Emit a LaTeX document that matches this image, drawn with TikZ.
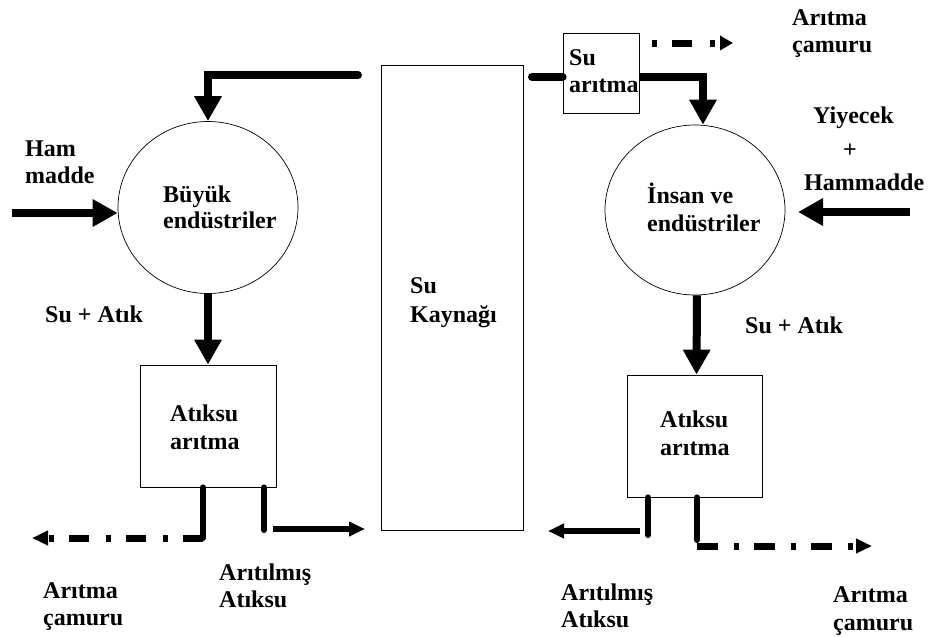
\documentclass[tikz,border=0pt]{standalone}
\usepackage{fontspec}
\setmainfont{Liberation Serif}
\usetikzlibrary{arrows.meta,shapes.geometric}
\newcommand\twol[3][0pt]{\begin{tabular}[t]{@{}l@{}}#2\\[#1]#3\end{tabular}}
\begin{document}
\begin{tikzpicture}[x=1pt,y=-1pt,
  box/.style={draw, line width=0.8pt, fill=white, inner sep=0pt, rectangle},
  blob/.style={draw, line width=0.7pt, ellipse, inner sep=0pt},
  txt/.style={font=\fontsize{24}{28}\selectfont\bfseries, inner sep=0pt, anchor=base west},
  bigarrow/.style={line width=8pt, -{Triangle[width=26pt,length=25pt]}},
  bigline/.style={line width=8pt},
  stub/.style={line width=6pt, line cap=round},
  smallarrow/.style={line width=6pt, -{Triangle[width=14pt,length=16pt]}},
  dasharrow/.style={line width=7pt, -{Triangle[width=14pt,length=16pt]}},
]
\useasboundingbox (0,0) rectangle (935,637);

% main shapes
\node[box, minimum width=142pt, minimum height=465pt] (kaynak) at (452,297.5) {};
\node[txt] (kaynaklbl) at (410,293) {\twol[1pt]{Su}{Kaynağı}};

\node[blob, minimum width=180pt, minimum height=172pt] (buyuk) at (208,207.5) {};
\node[txt] (buyuklbl) at (163,202) {\twol[-2pt]{Büyük}{endüstriler}};

\node[blob, minimum width=180pt, minimum height=170pt] (insan) at (695,210) {};
\node[txt] (insanlbl) at (647,203) {\twol{İnsan ve}{endüstriler}};

\node[box, minimum width=76pt, minimum height=80pt] (suarit) at (601,73) {};
\node[txt] (suaritlbl) at (569,65) {\twol[-1pt]{Su}{arıtma}};

\node[box, minimum width=136pt, minimum height=122pt] (latik) at (208,426) {};
\node[txt] (latiklbl) at (170,421) {\twol{Atıksu}{arıtma}};

\node[box, minimum width=135pt, minimum height=122pt] (ratik) at (694.5,436) {};
\node[txt] (ratiklbl) at (660,427) {\twol{Atıksu}{arıtma}};

% labels
\node[txt] (ham) at (25,156) {\twol[-1pt]{Ham}{madde}};
\node[txt] (sual) at (45,322) {Su + Atık};
\node[txt] (suar) at (745,333) {Su + Atık};
\node[txt] (yiy) at (813,123) {Yiyecek};
\node[txt] (plus) at (843,157) {+};
\node[txt] (hammadde) at (804,190) {Hammadde};
\node[txt] (camtop) at (792,25) {\twol{Arıtma}{çamuru}};
\node[txt] (atl) at (219,580) {\twol[-1pt]{Arıtılmış}{Atıksu}};
\node[txt] (caml) at (43,598) {\twol[-1pt]{Arıtma}{çamuru}};
\node[txt] (atr) at (561,600) {\twol[-1pt]{Arıtılmış}{Atıksu}};
\node[txt] (camr) at (833,602) {\twol{Arıtma}{çamuru}};

% coordinates for free ends
\coordinate (tl) at (358,75);
\coordinate (tr) at (532,77);
\coordinate (hamstart) at (12,213);
\coordinate (yistart) at (910,212);
\coordinate (yiend) at (798,212);
\coordinate (td1) at (652,43);
\coordinate (td2) at (733,43);
\coordinate (lv1) at (203,538);
\coordinate (lsl) at (32,538);
\coordinate (lv2) at (264,530);
\coordinate (lo1) at (273,529);
\coordinate (lo2) at (365,529);
\coordinate (rv1) at (648,535);
\coordinate (ro1) at (640,531);
\coordinate (ro2) at (548,531);
\coordinate (rv2) at (697,540);
\coordinate (rd1) at (697,546);
\coordinate (rd2) at (872,546);

% connectors top
\draw[bigarrow, line cap=round] (tl) -| (buyuk.north);
\draw[bigline, line cap=round] (tr) -- (tr -| suarit.west);
\draw[bigarrow] (tr -| suarit.east) -| ([xshift=8pt]insan.north);
\draw[dasharrow, -{Triangle[width=14pt,length=13pt]}, dash pattern=on 5pt off 15pt on 20pt off 18pt] (td1) -- (td2);

% side inputs
\draw[bigarrow] (hamstart) -- (buyuk.west |- hamstart);
\draw[bigarrow] (yistart) -- (yiend);

% down arrows
\draw[bigarrow] (buyuk.south) -- (latik.north);
\draw[bigarrow] ([xshift=2pt]insan.south) -- ([xshift=2pt]ratik.north);

% bottom left
\draw[stub] (lv1 |- latik.south) -- (lv1);
\draw[dasharrow, dash pattern=on 20pt off 15pt on 5pt off 17pt] (lv1) -- (lsl);
\draw[stub] (lv2 |- latik.south) -- (lv2);
\draw[smallarrow] (lo1) -- (lo2);

% bottom right
\draw[stub] (rv1 |- ratik.south) -- (rv1);
\draw[smallarrow] (ro1) -- (ro2);
\draw[stub] (rv2 |- ratik.south) -- (rv2);
\draw[dasharrow, dash pattern=on 21pt off 16pt on 5pt off 15pt] (rd1) -- (rd2);
\end{tikzpicture}
\end{document}
